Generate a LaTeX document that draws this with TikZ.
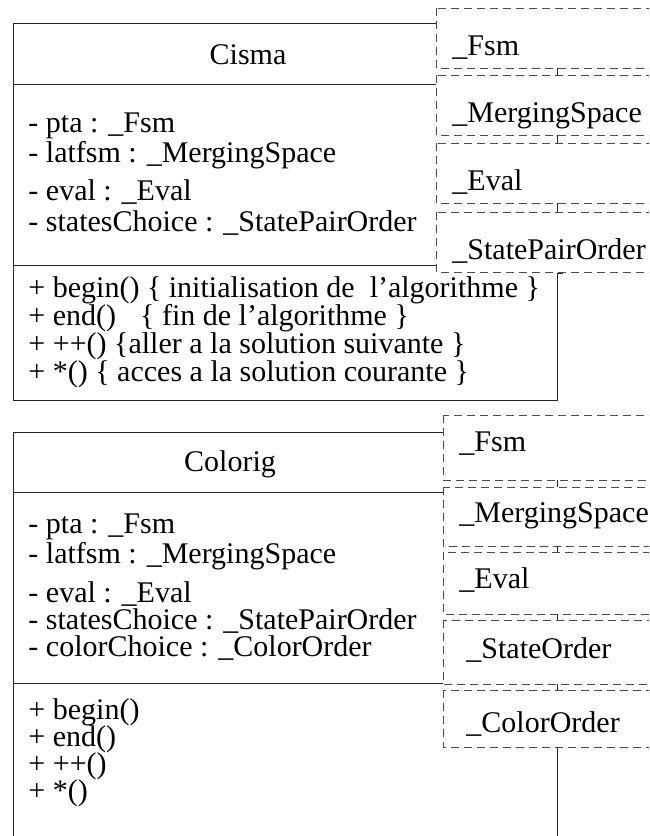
\documentclass[tikz,border=0pt]{standalone}
\usepackage{fontspec}
\setmainfont{Liberation Serif}
\begin{document}
\begin{tikzpicture}[x=1pt,y=-1pt,
    line width=0.9pt,
    txt/.style={anchor=base west,inner sep=0pt,font=\fontsize{30}{30}\selectfont},
    ctr/.style={anchor=base,inner sep=0pt,font=\fontsize{30}{30}\selectfont},
    part/.style={draw=black!70,dash pattern=on 8pt off 5pt,fill=white,line width=1pt},
    edge/.style={draw=black!85,line width=1pt}]
\useasboundingbox (0,0) rectangle (649,836);
\begin{scope}
\clip (0,0) rectangle (649,836);

% ---------------- class Cisma ----------------
\coordinate (ciTL) at (13,23);
\coordinate (ciTR) at (436,23);
\coordinate (ciS1L) at (13,84);
\coordinate (ciS1R) at (436,84);
\coordinate (ciS2L) at (13,265);
\coordinate (ciS2R) at (436,265);
\coordinate (ciBL) at (13,400);
\coordinate (ciBR) at (557,400);
\coordinate (ciMR) at (557,273);
\draw[edge] (ciTR) -- (ciTL) -- (ciBL) -- (ciBR) -- (ciMR) -- ++(6,0);
\draw[edge] (ciTR) -- ++(0,9);
\draw[edge] (ciS1L) -- (ciS1R) -- ++(0,8);
\draw[edge] (ciS2L) -- (ciS2R) -- ++(0,-8);

\node[ctr] (ciName) at (248,64) {Cisma};
\node[txt] (ciA1) at (28,132) {- pta : \_Fsm};
\node[txt] (ciA2) at (28,162) {- latfsm : \_MergingSpace};
\node[txt] (ciA3) at (28,200) {- eval : \_Eval};
\node[txt] (ciA4) at (28,231) {- statesChoice : \_StatePairOrder};
\node[txt] (ciM1) at (28,297) {+ begin() \{ initialisation de \ l’algorithme \}};
\node[txt] (ciM2) at (28,325) {+ end()\hspace{24pt}\{ fin de l’algorithme \}};
\node[txt] (ciM3) at (28,353) {+ ++() \{aller a la solution suivante \}};
\node[txt] (ciM4) at (28,381) {+ *() \{ acces a la solution courante \}};

% template parameters of Cisma
\draw[part] (436,8) rectangle (680,68);
\draw[part] (436,75) rectangle (680,135);
\draw[part] (436,143) rectangle (680,203);
\draw[part] (436,212) rectangle (680,272);
\draw[edge] (557,68) -- (557,75);
\draw[edge] (557,135) -- (557,143);
\draw[edge] (557,203) -- (557,212);
\node[txt] (ciP1) at (452,55) {\_Fsm};
\node[txt] (ciP2) at (452,122) {\_MergingSpace};
\node[txt] (ciP3) at (452,190) {\_Eval};
\node[txt] (ciP4) at (452,259) {\_StatePairOrder};

% ---------------- class Colorig ----------------
\coordinate (coTL) at (13,432);
\coordinate (coTR) at (443,432);
\coordinate (coS1L) at (13,492);
\coordinate (coS1R) at (443,492);
\coordinate (coS2L) at (13,683);
\coordinate (coS2R) at (443,683);
\coordinate (coBL) at (13,836);
\draw[edge] (coTR) -- (coTL) -- (coBL);
\draw[edge] (coTR) -- ++(0,8);
\draw[edge] (coS1L) -- (coS1R) -- ++(0,8);
\draw[edge] (coS2L) -- (coS2R) -- ++(0,-8);

\node[ctr] (coName) at (230,471) {Colorig};
\node[txt] (coA1) at (28,533) {- pta : \_Fsm};
\node[txt] (coA2) at (28,563) {- latfsm : \_MergingSpace};
\node[txt] (coA3) at (28,602) {- eval : \_Eval};
\node[txt] (coA4) at (28,629) {- statesChoice : \_StatePairOrder};
\node[txt] (coA5) at (28,656) {- colorChoice : \_ColorOrder};
\node[txt] (coM1) at (28,719) {+ begin()};
\node[txt] (coM2) at (28,746) {+ end()};
\node[txt] (coM3) at (28,773) {+ ++()};
\node[txt] (coM4) at (28,800) {+ *()};

% template parameters of Colorig
\draw[part] (443,415) rectangle (680,480);
\draw[part] (443,487) rectangle (680,546);
\draw[part] (443,552) rectangle (680,614);
\draw[part] (443,620) rectangle (680,684);
\draw[part] (443,690) rectangle (680,747);
\draw[edge] (557,480) -- (557,487);
\draw[edge] (557,546) -- (557,552);
\draw[edge] (557,614) -- (557,620);
\draw[edge] (557,684) -- (557,690);
\coordinate (coLink) at (557,747);
\coordinate (coEnd) at (557,836);
\draw[edge] (coLink) -- (coEnd);
\node[txt] (coP1) at (459,451) {\_Fsm};
\node[txt] (coP2) at (459,522) {\_MergingSpace};
\node[txt] (coP3) at (459,588) {\_Eval};
\node[txt] (coP4) at (466,658) {\_StateOrder};
\node[txt] (coP5) at (466,732) {\_ColorOrder};
\end{scope}
\end{tikzpicture}
\end{document}
